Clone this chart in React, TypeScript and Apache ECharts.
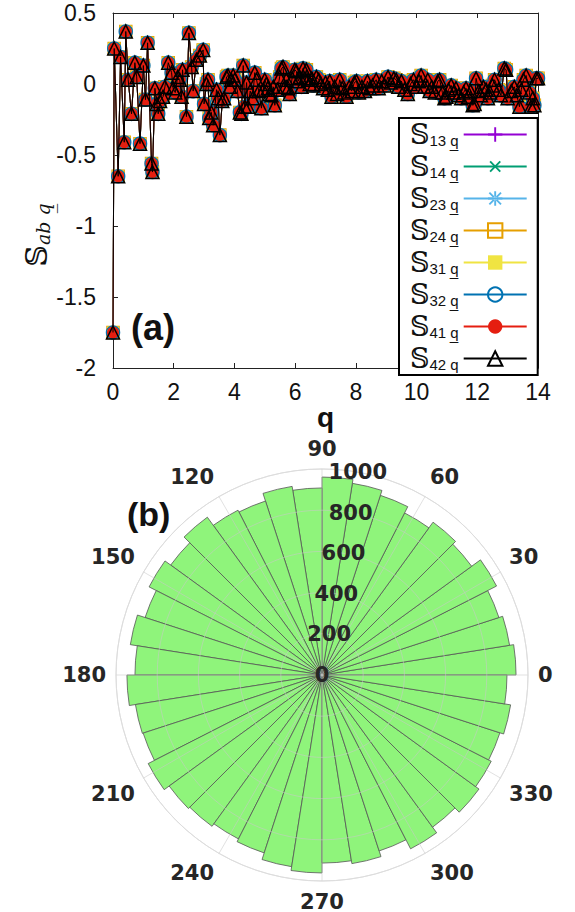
import React, { useEffect, useRef } from 'react';
import * as echarts from 'echarts';

// ---------- Panel (a) data ----------
const qValues = [
  0, 0.04, 0.17, 0.25, 0.37, 0.42, 0.5, 0.61, 0.72, 0.78, 0.89, 1.0, 1.07, 1.14, 1.27, 1.3, 1.38, 1.44, 1.49, 1.55,
  1.65, 1.71, 1.82, 1.93, 1.98, 2.05, 2.13, 2.2, 2.26, 2.29, 2.42, 2.5, 2.59, 2.64, 2.75, 2.86, 2.97, 3.0, 3.08, 3.13,
  3.17, 3.24, 3.3, 3.41, 3.46, 3.52, 3.6, 3.66, 3.74, 3.79, 3.85, 3.9, 3.96, 4.01, 4.1, 4.18, 4.23, 4.29, 4.34, 4.4,
  4.45, 4.52, 4.6, 4.67, 4.73, 4.8, 4.89, 4.95, 5.0, 5.05, 5.1, 5.16, 5.22, 5.28, 5.33, 5.42, 5.49, 5.55, 5.6, 5.66,
  5.71, 5.77, 5.82, 5.9, 5.99, 6.04, 6.1, 6.15, 6.21, 6.26, 6.32, 6.37, 6.43, 6.48, 6.55, 6.6, 6.7, 6.78, 6.85, 6.92,
  7.0, 7.08, 7.14, 7.2, 7.3, 7.38, 7.47, 7.55, 7.62, 7.69, 7.78, 7.86, 7.95, 8.02, 8.1, 8.2, 8.3, 8.38, 8.46, 8.55,
  8.67, 8.75, 8.85, 8.95, 9.06, 9.15, 9.25, 9.33, 9.4, 9.5, 9.6, 9.71, 9.8, 9.9, 10.0, 10.08, 10.15, 10.25, 10.37, 10.43,
  10.5, 10.6, 10.7, 10.76, 10.85, 10.92, 10.98, 11.05, 11.14, 11.22, 11.3, 11.38, 11.47, 11.55, 11.63, 11.7, 11.78, 11.85, 11.91, 11.96,
  12.05, 12.12, 12.2, 12.29, 12.35, 12.42, 12.5, 12.57, 12.7, 12.78, 12.89, 12.95, 13.0, 13.12, 13.22, 13.3, 13.39, 13.45, 13.52, 13.61,
  13.72, 13.77, 13.83, 13.88, 13.94, 14.0,
];
const sValues = [
  -1.75, 0.25, -0.65, 0.19, -0.41, 0.37, 0.03, -0.21, 0.15, 0.05, -0.42, 0.13, -0.11, 0.29, -0.56, -0.62, -0.03, -0.14, -0.21, -0.12,
  -0.09, -0.02, 0.15, 0.08, -0.03, -0.06, 0.05, 0.03, -0.09, 0.1, -0.23, 0.36, 0.12, -0.05, 0.17, 0.2, 0.24, -0.14, 0.0, 0.03,
  -0.24, -0.2, -0.29, -0.04, -0.1, -0.36, -0.12, -0.1, 0.05, 0.06, -0.02, 0.03, 0.06, 0.03, -0.05, -0.2, -0.21, 0.13, -0.16, 0.01,
  -0.16, -0.05, -0.1, 0.08, 0.03, -0.05, -0.17, -0.04, 0.03, 0.0, -0.03, -0.07, -0.08, -0.02, -0.15, -0.04, 0.05, 0.11, 0.12, -0.02,
  0.03, -0.03, -0.07, 0.04, 0.1, 0.09, 0.02, 0.05, -0.02, 0.11, 0.04, 0.1, 0.03, 0.0, 0.04, -0.01, 0.05, 0.03, 0.0, -0.03,
  0.01, -0.04, 0.02, -0.09, -0.02, -0.07, 0.03, -0.03, -0.06, -0.09, -0.02, -0.05, 0.01, 0.02, -0.06, -0.02, -0.05, 0.02, -0.03, -0.01,
  0.03, -0.03, 0.02, -0.01, 0.05, 0.01, 0.04, 0.03, -0.02, 0.02, -0.04, -0.07, 0.0, 0.03, -0.02, 0.02, 0.06, -0.02, 0.03, -0.05,
  -0.02, -0.06, 0.02, 0.03, -0.06, -0.1, -0.09, -0.04, -0.01, -0.06, -0.03, -0.08, -0.1, -0.06, -0.03, -0.09, -0.05, -0.15, -0.14, 0.04,
  -0.05, -0.08, -0.02, -0.04, -0.1, -0.06, -0.01, 0.03, -0.04, -0.08, 0.11, 0.1, -0.1, -0.05, -0.02, -0.08, -0.16, -0.04, 0.03, 0.06,
  -0.06, -0.16, -0.1, -0.15, 0.04, 0.04,
];
const seriesIndices = ['13', '14', '23', '24', '31', '32', '41', '42'];
const seriesColors = ['#9400d3', '#009e73', '#56b4e9', '#e69f00', '#f0e442', '#0072b2', '#e51e10', '#000000'];

// ---------- Panel (b) data: 40 angular bins of 9 degrees ----------
const binStarts = [
  0, 9, 18, 27, 36, 45, 54, 63, 72, 81, 90, 99, 108, 117, 126, 135, 144, 153, 162, 171,
  180, 189, 198, 207, 216, 225, 234, 243, 252, 261, 270, 279, 288, 297, 306, 315, 324, 333, 342, 351,
];
const binCounts = [
  942, 922, 903, 951, 898, 917, 883, 917, 942, 961, 908, 927, 888, 898, 947, 908, 942, 903, 942, 908,
  947, 917, 913, 947, 917, 908, 893, 908, 942, 961, 913, 927, 898, 947, 913, 942, 922, 908, 927, 898,
];
const radialMax = 1000;

const PLUS = 'path://M-0.8,-6H0.8V-0.8H6V0.8H0.8V6H-0.8V0.8H-6V-0.8H-0.8Z';
const STAR =
  'path://M-0.8,-6H0.8V-0.8H6V0.8H0.8V6H-0.8V0.8H-6V-0.8H-0.8Z' +
  'M-5.4,-4.3L4.3,5.4L5.4,4.3L-4.3,-5.4Z M-5.4,4.3L-4.3,5.4L5.4,-4.3L4.3,-5.4Z';

const markerDefs: any[] = [
  { symbol: PLUS, size: 13, filled: true },
  { symbol: PLUS, size: 13, filled: true, rotate: 45 },
  { symbol: STAR, size: 13, filled: true },
  { symbol: 'rect', size: 12, filled: false },
  { symbol: 'rect', size: 12, filled: true },
  { symbol: 'circle', size: 13, filled: false },
  { symbol: 'circle', size: 12, filled: true },
  { symbol: 'triangle', size: 13, filled: false },
];

export default function App() {
  const ref = useRef<HTMLDivElement>(null);
  useEffect(() => {
    if (!ref.current) return;
    const chart = echarts.init(ref.current, undefined, { renderer: 'svg' });
    const pts = qValues.map((q, i) => [q, sValues[i]]);
    const lineSeries = seriesIndices.map((name, i) => {
      const m = markerDefs[i];
      const c = seriesColors[i];
      return {
        type: 'line',
        name,
        xAxisIndex: 0,
        yAxisIndex: 0,
        data: pts,
        symbol: m.symbol,
        symbolSize: m.size,
        symbolRotate: m.rotate || 0,
        showAllSymbol: true,
        lineStyle: { color: c, width: 1 },
        itemStyle: m.filled
          ? { color: c }
          : { color: 'rgba(0,0,0,0)', borderColor: c, borderWidth: 1.5 },
        emphasis: { disabled: true },
        z: 2 + i * 0.01,
      };
    });
    const axisCol = '#222';
    const option: any = {
      animation: false,
      backgroundColor: '#ffffff',
      textStyle: { fontFamily: 'Liberation Sans' },
      grid: { left: 113, right: 37, top: 13, bottom: 544 },
      xAxis: [
        {
          type: 'value', min: 0, max: 14, interval: 2, position: 'bottom',
          axisLine: { show: true, onZero: false, lineStyle: { color: axisCol, width: 1 } },
          axisTick: { show: true, inside: true, length: 5, lineStyle: { color: axisCol } },
          axisLabel: { fontSize: 23, color: '#111', margin: 12, fontFamily: 'Liberation Sans' },
          splitLine: { show: false },
          name: 'q', nameLocation: 'middle', nameGap: 32,
          nameTextStyle: { fontSize: 28, fontWeight: 'bold', color: '#111', fontFamily: 'Liberation Sans' },
        },
        {
          type: 'value', min: 0, max: 14, interval: 2, position: 'top',
          axisLine: { show: true, onZero: false, lineStyle: { color: axisCol, width: 1 } },
          axisTick: { show: true, inside: true, length: 5, lineStyle: { color: axisCol } },
          axisLabel: { show: false }, splitLine: { show: false },
        },
      ],
      yAxis: [
        {
          type: 'value', min: -2, max: 0.5, interval: 0.5, position: 'left',
          axisLine: { show: true, onZero: false, lineStyle: { color: axisCol, width: 1 } },
          axisTick: { show: true, inside: true, length: 5, lineStyle: { color: axisCol } },
          axisLabel: { fontSize: 23, color: '#111', margin: 17, fontFamily: 'Liberation Sans' },
          splitLine: { show: false },
        },
        {
          type: 'value', min: -2, max: 0.5, interval: 0.5, position: 'right',
          axisLine: { show: true, onZero: false, lineStyle: { color: axisCol, width: 1 } },
          axisTick: { show: true, inside: true, length: 5, lineStyle: { color: axisCol } },
          axisLabel: { show: false }, splitLine: { show: false },
        },
      ],
      legend: {
        orient: 'vertical', left: 399, top: 118,
        padding: [3, 10, 3, 11], itemGap: 5, itemWidth: 63, itemHeight: 18, align: 'right',
        backgroundColor: '#ffffff', borderColor: '#000', borderWidth: 2, borderRadius: 0,
        data: seriesIndices,
        selectedMode: false,
        formatter: (name: string) => `{s|𝕊}{sub|${name} q̲}`,
        textStyle: {
          lineHeight: 26,
          rich: {
            s: { fontSize: 27, fontFamily: 'DejaVu Serif', color: '#111', lineHeight: 26, verticalAlign: 'middle' },
            sub: { fontSize: 15, fontFamily: 'Liberation Sans', color: '#111', lineHeight: 26, verticalAlign: 'bottom' },
          },
        },
      },
      polar: [
        { center: [322, 675], radius: 206 },
        { center: [322, 675], radius: 206 },
        { center: [322, 675], radius: 206 },
      ],
      angleAxis: [
        {
          polarIndex: 0, type: 'category', data: binStarts.map(String), startAngle: 0, clockwise: false,
          boundaryGap: true, axisLine: { show: false }, axisTick: { show: false }, axisLabel: { show: false },
          splitLine: { show: false },
        },
        {
          polarIndex: 1, type: 'value', min: 0, max: 360, interval: 30, startAngle: 0, clockwise: false, z: 5,
          axisLine: { show: true, lineStyle: { color: '#dddddd', width: 1 } },
          axisTick: { show: false },
          axisLabel: {
            show: true, margin: 10, fontSize: 21, fontWeight: 'bold', color: '#262626', fontFamily: 'DejaVu Sans',
            formatter: (v: number) => (v === 360 ? '' : String(v)),
          },
          splitLine: { show: true, lineStyle: { color: 'rgba(200,200,200,0.55)', width: 1 } },
        },
        {
          polarIndex: 2, type: 'value', min: 0, max: 360, startAngle: 80, clockwise: false,
          axisLine: { show: false }, axisTick: { show: false }, axisLabel: { show: false }, splitLine: { show: false },
        },
      ],
      radiusAxis: [
        { polarIndex: 0, type: 'value', min: 0, max: radialMax, axisLine: { show: false }, axisTick: { show: false }, axisLabel: { show: false }, splitLine: { show: false } },
        {
          polarIndex: 1, type: 'value', min: 0, max: radialMax, interval: 200, z: 5,
          axisLine: { show: false }, axisTick: { show: false }, axisLabel: { show: false },
          splitLine: { show: true, lineStyle: { color: 'rgba(200,200,200,0.55)', width: 1 } },
        },
        {
          polarIndex: 2, type: 'value', min: 0, max: radialMax, interval: 200, z: 6,
          axisLine: { show: false }, axisTick: { show: false }, splitLine: { show: false },
          axisLabel: {
            show: true, margin: 0, align: 'center', verticalAlign: 'middle', fontSize: 21, fontWeight: 'bold',
            color: '#262626', fontFamily: 'DejaVu Sans',
            formatter: (v: number) => String(v),
          },
        },
      ],
      series: [
        ...lineSeries,
        {
          type: 'bar', coordinateSystem: 'polar', polarIndex: 0, data: binCounts,
          barCategoryGap: '0%', barGap: '0%',
          itemStyle: { color: '#8ff47b', borderColor: '#555555', borderWidth: 0.8 },
          emphasis: { disabled: true },
          z: 2,
        },
      ],
      graphic: [
        {
          type: 'text', x: 36, y: 235, rotation: Math.PI / 2,
          style: {
            text: '{s|𝕊}{sub|ab q̲}', align: 'center', verticalAlign: 'middle',
            rich: {
              s: { fontSize: 30, fontFamily: 'DejaVu Serif', fill: '#111', lineHeight: 32 },
              sub: { fontSize: 19, fontFamily: 'DejaVu Serif', fontStyle: 'italic', fill: '#111', lineHeight: 32, verticalAlign: 'bottom' },
            },
          },
          z: 10,
        },
        {
          type: 'text', left: 131, top: 309,
          style: { text: '(a)', fontSize: 36, fontWeight: 'bold', fontFamily: 'Liberation Sans', fill: '#111' },
          z: 10,
        },
        {
          type: 'text', left: 127, top: 497,
          style: { text: '(b)', fontSize: 34, fontWeight: 'bold', fontFamily: 'Liberation Sans', fill: '#111' },
          z: 10,
        },
      ],
    };
    chart.setOption(option);
    return () => chart.dispose();
  }, []);
  return (
    <div
      ref={ref}
      style={{ position: 'absolute', left: 0, top: 0, width: 575, height: 912, background: '#fff' }}
    />
  );
}
